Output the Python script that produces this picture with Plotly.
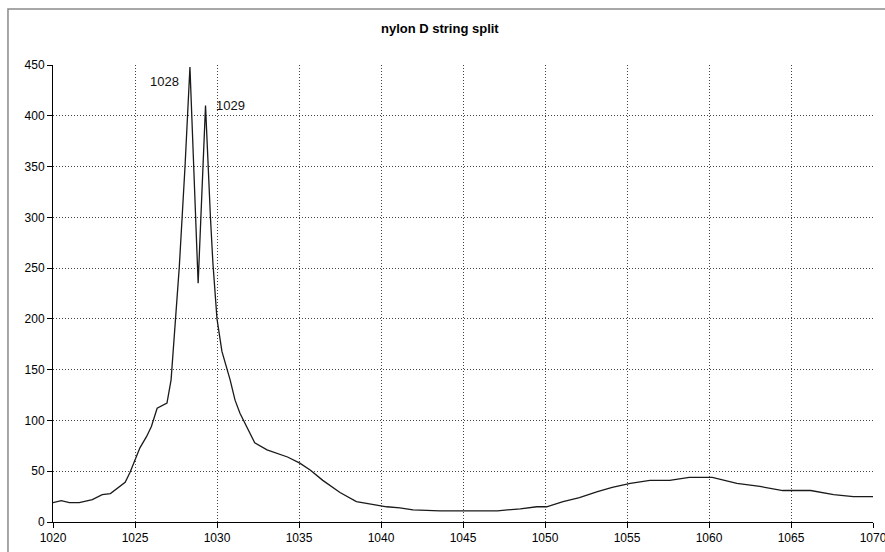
import plotly.graph_objects as go

freq = [1020.0, 1020.5, 1021.0, 1021.6, 1022.4, 1023.0, 1023.5, 1023.9, 1024.4, 1024.7,
        1025.0, 1025.3, 1025.7, 1026.0, 1026.35, 1026.95, 1027.2, 1027.7, 1028.05, 1028.35,
        1028.85, 1029.3, 1029.6, 1029.75, 1030.0, 1030.3, 1030.8, 1031.1, 1031.4, 1032.3,
        1033.05, 1034.0, 1034.3, 1035.05, 1035.7, 1036.45, 1037.5, 1038.5, 1039.5, 1040.35,
        1041.15, 1041.95, 1043.6, 1045.0, 1047.1, 1048.5, 1049.5, 1050.1, 1051.1, 1052.1,
        1053.2, 1054.1, 1055.2, 1056.4, 1057.6, 1058.8, 1060.2, 1061.7, 1063.1, 1064.5,
        1066.2, 1067.6, 1068.8, 1070.0]
amplitude = [19, 21, 19, 19, 22, 27, 28, 33, 39, 49,
             61, 73, 84, 94, 112, 117, 140, 251, 350, 448,
             235, 410, 300, 255, 200, 168, 140, 120, 107, 78,
             71, 66, 64, 58, 51, 41, 29, 20, 17, 15,
             14, 12, 11, 11, 11, 13, 15, 15, 20, 24,
             30, 34, 38, 41, 41, 44, 44, 38, 35, 31,
             31, 27, 25, 25]

x_ticks = [1020, 1025, 1030, 1035, 1040, 1045, 1050, 1055, 1060, 1065, 1070]
y_ticks = [0, 50, 100, 150, 200, 250, 300, 350, 400, 450]

peak_labels = ["1028", "1029"]
peak_label_x = [1026.77, 1030.8]
peak_label_y = [434, 410]

fig = go.Figure()
fig.add_trace(go.Scatter(x=freq, y=amplitude, mode="lines",
                         line=dict(color="#1a1a1a", width=1.3), showlegend=False,
                         hoverinfo="x+y"))

for t, xx, yy in zip(peak_labels, peak_label_x, peak_label_y):
    fig.add_annotation(x=xx, y=yy, text=t, showarrow=False,
                       font=dict(family="Liberation Sans, Arial", size=13, color="#111"),
                       xanchor="center", yanchor="middle")

fig.add_shape(type="rect", xref="paper", yref="paper",
              x0=-0.0549, x1=1.03, y0=-0.1, y1=1.1225,
              line=dict(color="#8a8a8a", width=1.5), fillcolor="rgba(0,0,0,0)", layer="below")

axis_common = dict(showline=True, linecolor="black", linewidth=1,
                   showgrid=True, gridcolor="#444444", gridwidth=1, griddash="1px,2px",
                   ticks="outside", ticklen=5, tickcolor="black", zeroline=False,
                   ticklabeloverflow="allow", automargin=False,
                   tickfont=dict(family="Liberation Sans, Arial", size=12, color="black"))

fig.update_xaxes(range=[1020, 1070], tickvals=x_ticks, ticktext=[str(v) for v in x_ticks], **axis_common)
fig.update_yaxes(range=[0, 450], tickvals=y_ticks, ticktext=[str(v) for v in y_ticks], **axis_common)

fig.update_layout(
    width=885, height=552,
    margin=dict(l=53, r=12, t=65, b=30, autoexpand=False),
    paper_bgcolor="white", plot_bgcolor="white",
    title=dict(text="<b>nylon D string split</b>", x=0.497, xanchor="center",
               y=1 - 28 / 552, yanchor="middle", yref="container",
               font=dict(family="Liberation Sans, Arial", size=13, color="black")),
)

fig.write_html("out.html")
